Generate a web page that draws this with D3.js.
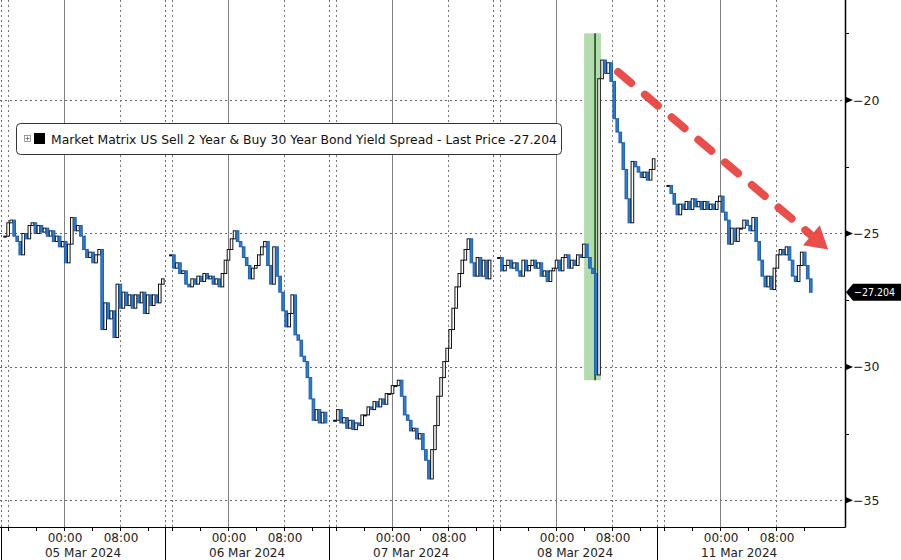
<!DOCTYPE html>
<html><head><meta charset="utf-8">
<script src="https://cdn.jsdelivr.net/npm/d3@7"></script>
<style>
html,body{margin:0;padding:0;background:#fff;}
svg{display:block;}
text{font-family:"DejaVu Sans",sans-serif;}
</style></head>
<body><svg id="chart" width="901" height="560"></svg>
<script>
// ---------------- DATA ----------------
const sessionDates = ["05 Mar 2024","06 Mar 2024","07 Mar 2024","08 Mar 2024","11 Mar 2024"];
// first bar of each session (previous evening, local time)
const sessionFirstBar = ["15:35","15:50","15:50","15:50","16:35"];
const barMinutes = 26;
const closes05 = [-25.1,-24.6,-24.5,-25.1,-25.3,-25.8,-25.0,-25.2,-24.7,-24.6,-25.0,-24.7,-24.95,-24.8,-25.1,-24.9,-25.3,-25.1,-25.5,-25.3,-26.1,-25.4,-24.4,-24.9,-24.7,-25.1,-25.6,-25.9,-25.7,-26.1,-25.8,-25.6,-28.6,-27.6,-28.2,-27.9,-28.9,-26.9,-27.8,-27.2,-27.7,-27.3,-27.8,-27.3,-27.6,-27.2,-28.0,-27.3,-27.7,-27.3,-27.6,-26.9,-26.7];
const closes06 = [-25.8,-26.3,-26.1,-26.5,-26.4,-26.9,-27.0,-26.7,-26.9,-26.6,-26.8,-26.5,-26.7,-26.6,-26.9,-26.7,-27.0,-26.5,-26.0,-25.6,-25.2,-24.9,-25.3,-25.5,-25.9,-26.2,-26.7,-26.3,-26.2,-25.8,-25.5,-25.3,-26.2,-26.9,-25.5,-26.6,-27.2,-27.9,-28.5,-28.0,-27.3,-28.8,-29.0,-29.6,-29.8,-30.4,-31.2,-32.0,-31.6,-32.1,-31.7,-32.1];
const closes07 = [-32.0,-31.6,-32.1,-31.9,-32.3,-32.0,-32.35,-32.1,-32.2,-31.8,-31.8,-31.5,-31.6,-31.3,-31.5,-31.2,-31.4,-31.0,-31.0,-30.7,-30.7,-30.5,-31.1,-31.8,-32.0,-32.4,-32.3,-32.7,-32.5,-33.1,-33.5,-34.2,-33.1,-32.2,-31.1,-30.4,-29.8,-29.3,-28.6,-27.8,-27.0,-26.5,-26.0,-25.6,-25.2,-26.1,-26.6,-25.9,-26.6,-26.0,-26.7,-26.0];
const closes08 = [-25.9,-26.4,-26.2,-26.0,-26.3,-26.1,-26.4,-26.6,-26.0,-26.4,-26.2,-26.0,-26.3,-26.1,-26.6,-26.4,-26.8,-26.4,-26.3,-26.0,-26.4,-25.9,-25.8,-26.3,-26.0,-26.2,-25.8,-25.9,-25.4,-25.9,-26.3,-26.5,-30.3,-19.2,-18.5,-19.0,-18.6,-19.3,-20.7,-21.2,-21.6,-22.6,-23.7,-24.6,-22.3,-22.5,-22.7,-22.9,-22.7,-23.0,-22.6,-22.2];
const closes11 = [-23.2,-23.5,-23.9,-24.3,-23.9,-24.1,-23.8,-24.1,-23.7,-24.0,-23.8,-24.1,-23.8,-24.1,-23.9,-24.1,-23.8,-23.6,-24.2,-24.5,-25.4,-24.8,-25.3,-24.8,-24.8,-24.5,-24.7,-24.9,-24.4,-25.3,-26.0,-26.6,-27.0,-26.6,-27.1,-26.3,-25.8,-25.6,-25.8,-25.5,-26.0,-26.6,-26.8,-26.2,-25.7,-26.2,-26.7,-27.204];
const sessionCloses = [closes05, closes06, closes07, closes08, closes11];

const yMajorTicks = [-20, -25, -30, -35];
const yMinorTicks = [-17.5, -22.5, -27.5, -32.5];
const xTickHours = [-8, -4, 0, 4, 8, 12];           // 16:00 (prev) .. 12:00
const xLabelHours = [0, 8];
const xLabelText = ["00:00", "08:00"];
const lastPrice = -27.204;
const legendText = "Market Matrix US Sell 2 Year & Buy 30 Year Bond Yield Spread - Last Price -27.204";

// highlighted window on 08 Mar
const highlightSession = 3;
const highlightTimes = ["04:00", "06:25"];
const highlightValues = [-17.5, -30.5];
const markerTime = "05:34";
// trend arrow annotation: [session, time, value]
const arrowFrom = [3, "08:52", -18.95];
const arrowTo = [4, "15:26", -25.6];

// ---------------- SCALES ----------------
const SESSION_OPEN = -9;                 // 15:00 previous day
const SESSION_LEN = 23 + 26 / 60;        // hours per session
const W = 901, H = 560, plotRight = 845, plotBottom = 527;
const x = d3.scaleLinear().domain([0, 844 / 7]).range([1, plotRight]);
const y = d3.scaleLinear().domain([-16.25, -36]).range([0, plotBottom]);
const hm = s => { const [h, m] = s.split(":").map(Number); return h + m / 60; };
const tx = (session, hour) => x(session * SESSION_LEN + (hour - SESSION_OPEN));

const svg = d3.select("#chart");

// ---------------- GRID ----------------
const grid = svg.append("g");
grid.selectAll("line.h").data(yMajorTicks).join("line")
  .attr("x1", 0).attr("x2", plotRight)
  .attr("y1", d => Math.round(y(d)) + 0.5).attr("y2", d => Math.round(y(d)) + 0.5)
  .attr("stroke", "#666").attr("stroke-dasharray", "2,3");

sessionDates.forEach((d, i) => {
  const xs = Math.round(tx(i, SESSION_OPEN)) + 0.5;
  grid.append("line").attr("x1", xs).attr("x2", xs).attr("y1", 0).attr("y2", plotBottom)
    .attr("stroke", "#666").attr("stroke-dasharray", "2,3");
  [-8, 8].forEach(h => {
    const xx = Math.round(tx(i, h)) + 0.5;
    grid.append("line").attr("x1", xx).attr("x2", xx).attr("y1", 0).attr("y2", plotBottom)
      .attr("stroke", "#777").attr("stroke-dasharray", "2,3");
  });
  const x0 = Math.round(tx(i, 0)) + 0.5;
  grid.append("line").attr("x1", x0).attr("x2", x0).attr("y1", 0).attr("y2", plotBottom)
    .attr("stroke", "#808080").attr("stroke-width", 1);
});

// ---------------- HIGHLIGHT ----------------
const hx0 = tx(highlightSession, hm(highlightTimes[0]));
const hx1 = tx(highlightSession, hm(highlightTimes[1]));
svg.append("rect").attr("x", hx0).attr("width", hx1 - hx0)
  .attr("y", y(highlightValues[0])).attr("height", y(highlightValues[1]) - y(highlightValues[0]))
  .attr("fill", "#b3dcae");
const mx = tx(highlightSession, hm(markerTime));
svg.append("line").attr("x1", mx).attr("x2", mx)
  .attr("y1", y(highlightValues[0])).attr("y2", y(highlightValues[1]))
  .attr("stroke", "#1d4d1d").attr("stroke-width", 1.6);

// ---------------- CANDLES ----------------
const bars = [];
sessionCloses.forEach((arr, s) => {
  const start = hm(sessionFirstBar[s]) - 24;
  arr.forEach((c, k) => {
    bars.push({ s, t: start + k * barMinutes / 60, open: k ? arr[k - 1] : c, close: c });
  });
});
const bw = 2.6;
svg.append("g").selectAll("rect").data(bars).join("rect")
  .attr("x", d => tx(d.s, d.t) - bw / 2)
  .attr("width", bw)
  .attr("y", d => y(Math.max(d.open, d.close)))
  .attr("height", d => Math.max(1, Math.abs(y(d.open) - y(d.close))))
  .attr("fill", d => d.close >= d.open ? "#ffffff" : "#2a7dd6")
  .attr("stroke", d => d.close >= d.open ? "#111" : "#1f5faa")
  .attr("stroke-width", 1);

// ---------------- ARROW ----------------
const p1 = [tx(arrowFrom[0], hm(arrowFrom[1])), y(arrowFrom[2])];
const p2 = [tx(arrowTo[0], hm(arrowTo[1]) ), y(arrowTo[2])];
const dx = p2[0] - p1[0], dy = p2[1] - p1[1], len = Math.hypot(dx, dy);
const ux = dx / len, uy = dy / len;
const headL = 22, headW = 13;
const defs = svg.append("defs");
defs.append("filter").attr("id", "soft").append("feGaussianBlur").attr("stdDeviation", 0.7);
const ag = svg.append("g").attr("filter", "url(#soft)").attr("opacity", 0.92);
ag.append("line").attr("x1", p1[0]).attr("y1", p1[1])
  .attr("x2", p2[0] - ux * (headL - 2)).attr("y2", p2[1] - uy * (headL - 2))
  .attr("stroke", "#e8403a").attr("stroke-width", 8).attr("stroke-linecap", "round")
  .attr("stroke-dasharray", "17,18");
const bx = p2[0] - ux * headL, by = p2[1] - uy * headL;
ag.append("polygon").attr("points", [
  [p2[0], p2[1]],
  [bx - uy * headW, by + ux * headW],
  [bx + uy * headW, by - ux * headW]
].map(p => p.join(",")).join(" ")).attr("fill", "#e8403a");

// ---------------- AXES ----------------
svg.append("line").attr("x1", 0).attr("x2", plotRight + 0.5)
  .attr("y1", plotBottom + 0.5).attr("y2", plotBottom + 0.5).attr("stroke", "#000");
svg.append("line").attr("x1", plotRight + 0.5).attr("x2", plotRight + 0.5)
  .attr("y1", 0).attr("y2", plotBottom + 0.5).attr("stroke", "#000").attr("stroke-width", 1.5);

// y ticks
const ya = svg.append("g");
ya.selectAll("path.maj").data(yMajorTicks).join("path")
  .attr("d", d => `M${plotRight},${y(d) - 3.5}L${plotRight + 8},${y(d)}L${plotRight},${y(d) + 3.5}Z`)
  .attr("fill", "#000");
ya.selectAll("line.min").data(yMinorTicks).join("line")
  .attr("x1", plotRight).attr("x2", plotRight + 4)
  .attr("y1", d => Math.round(y(d)) + 0.5).attr("y2", d => Math.round(y(d)) + 0.5)
  .attr("stroke", "#000");
ya.selectAll("text").data(yMajorTicks).join("text")
  .attr("x", plotRight + 8).attr("y", d => y(d)).attr("dy", "0.36em")
  .attr("font-size", 12.5).attr("fill", "#222")
  .text(d => d3.format("d")(d));

// last price tag
const ly = y(lastPrice);
svg.append("polygon").attr("points",
  `${plotRight + 1},${ly} ${plotRight + 8},${ly - 8.5} ${W},${ly - 8.5} ${W},${ly + 8.5} ${plotRight + 8},${ly + 8.5}`)
  .attr("fill", "#000");
svg.append("text").attr("x", plotRight + 9).attr("y", ly).attr("dy", "0.36em")
  .attr("font-size", 10.5).attr("fill", "#fff")
  .attr("textLength", 41).attr("lengthAdjust", "spacingAndGlyphs")
  .text(d3.format(".3f")(lastPrice));

// x ticks & labels
const xa = svg.append("g");
sessionDates.forEach((d, i) => {
  const xs = Math.round(tx(i, SESSION_OPEN)) + 0.5;
  xa.append("line").attr("x1", xs).attr("x2", xs).attr("y1", plotBottom).attr("y2", H).attr("stroke", "#000");
  xTickHours.forEach(h => {
    const xx = Math.round(tx(i, h)) + 0.5;
    xa.append("line").attr("x1", xx).attr("x2", xx).attr("y1", plotBottom).attr("y2", plotBottom + 4).attr("stroke", "#000");
  });
  xLabelHours.forEach((h, j) => {
    xa.append("text").attr("x", tx(i, h) + 1).attr("y", 542).attr("text-anchor", "middle")
      .attr("font-size", 12).attr("fill", "#222").text(xLabelText[j]);
  });
  xa.append("text").attr("x", tx(i, SESSION_OPEN + SESSION_LEN / 2)).attr("y", 556.5)
    .attr("text-anchor", "middle").attr("font-size", 12).attr("fill", "#222").text(d);
});

// ---------------- LEGEND ----------------
const lg = svg.append("g");
lg.append("rect").attr("x", 16.5).attr("y", 123.5).attr("width", 545).attr("height", 31).attr("rx", 4)
  .attr("fill", "#fff").attr("stroke", "#333");
lg.append("rect").attr("x", 24.5).attr("y", 135.5).attr("width", 6).attr("height", 6)
  .attr("fill", "none").attr("stroke", "#888").attr("stroke-width", 0.8);
lg.append("path").attr("d", "M25.5,138.5h4M27.5,136.5v4").attr("stroke", "#666").attr("stroke-width", 0.8);
lg.append("rect").attr("x", 34).attr("y", 133).attr("width", 11).attr("height", 11).attr("fill", "#000");
lg.append("text").attr("x", 51).attr("y", 143.5).attr("font-size", 12.5).attr("fill", "#111")
  .attr("textLength", 506).attr("lengthAdjust", "spacingAndGlyphs").text(legendText);
</script>
</body></html>
